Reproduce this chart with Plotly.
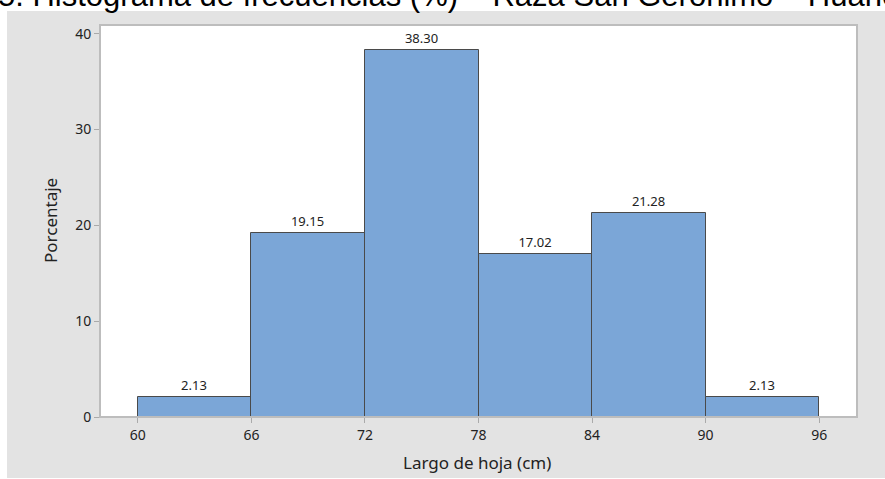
import plotly.graph_objects as go

bin_edges = [60, 66, 72, 78, 84, 90, 96]
percentages = [2.13, 19.15, 38.30, 17.02, 21.28, 2.13]
y_ticks = [0, 10, 20, 30, 40]
x_ticks = [60, 66, 72, 78, 84, 90, 96]
title_text = "5. Histograma de frecuencias (%) – Raza San Geronimo – Huancayo"
x_title = "Largo de hoja (cm)"
y_title = "Porcentaje"

centers = [(a + b) / 2 for a, b in zip(bin_edges[:-1], bin_edges[1:])]
widths = [b - a for a, b in zip(bin_edges[:-1], bin_edges[1:])]

W, H = 885, 479
L, R, T, B = 100, 857, 25, 417
pw, ph = R - L, B - T

def px(x):
    return (x - L) / pw

def py(y):
    return (B - y) / ph

FONT = "Noto Sans"

fig = go.Figure()
fig.add_trace(go.Bar(
    x=centers, y=percentages, width=widths,
    marker=dict(color="#7BA6D7", line=dict(color="#4A4A4A", width=1)),
    texttemplate="%{y:.2f}", textposition="outside", cliponaxis=False,
    textfont=dict(family=FONT, size=13, color="#222222"),
    hoverinfo="skip",
))

fig.update_layout(
    width=W, height=H,
    margin=dict(l=L, r=W - R, t=T, b=H - B, pad=0),
    paper_bgcolor="white", plot_bgcolor="white",
    showlegend=False, bargap=0,
    font=dict(family=FONT, color="#333333"),
    xaxis=dict(range=[58, 98], tickvals=x_ticks, ticks="outside", ticklen=5,
               tickcolor="#AAAAAA", showgrid=False, zeroline=False,
               showline=False, tickfont=dict(size=14, color="#222222")),
    yaxis=dict(range=[0, 40.9], tickvals=y_ticks, ticks="outside", ticklen=5,
               tickcolor="#AAAAAA", showgrid=False, zeroline=False,
               showline=False, tickfont=dict(size=14, color="#222222")),
    shapes=[
        dict(type="rect", xref="paper", yref="paper", layer="below",
             x0=px(7), x1=px(890), y0=py(478), y1=py(11),
             fillcolor="#E3E3E3", line=dict(width=0)),
        dict(type="rect", xref="paper", yref="paper", layer="below",
             x0=0, x1=1, y0=0, y1=1, fillcolor="white", line=dict(width=0)),
        dict(type="rect", xref="paper", yref="paper", layer="above",
             x0=0, x1=1, y0=0, y1=1, line=dict(color="#BDBDBD", width=2)),
    ],
    annotations=[
        dict(text=x_title, xref="paper", yref="paper", x=px(477), y=py(462),
             xanchor="center", yanchor="middle", showarrow=False,
             font=dict(family=FONT, size=17, color="#222222")),
        dict(text=y_title, xref="paper", yref="paper", x=px(50), y=py(220),
             xanchor="center", yanchor="middle", textangle=-90, showarrow=False,
             font=dict(family=FONT, size=17, color="#222222")),
        dict(text=title_text, xref="paper", yref="paper", x=px(-4), y=py(15),
             xanchor="left", yanchor="bottom", showarrow=False,
             font=dict(family="Liberation Sans", size=31, color="#000000")),
    ],
)

fig.write_html("out.html", config={"displayModeBar": False},
               post_script="document.body.style.margin='0px';document.body.style.overflow='hidden';")
